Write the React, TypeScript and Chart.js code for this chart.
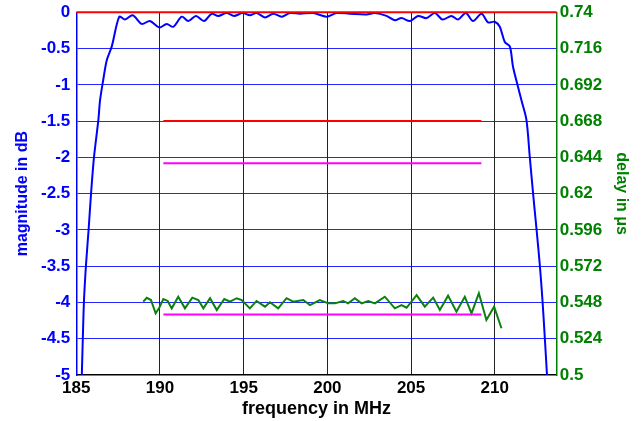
import React, { useEffect, useRef } from "react";
import { Chart, registerables } from "chart.js";

Chart.register(...registerables);

// ---- data ----
const magFreq = [
  185.33, 185.39, 185.46, 185.58, 185.74, 185.88, 186.06, 186.32, 186.42, 186.61, 186.82, 187.12, 187.57,
  187.91, 188.37, 188.91, 189.4, 189.96, 190.4, 190.79, 191.3, 191.69, 192.15, 192.63, 193.09, 193.48,
  193.98, 194.42, 194.94, 195.37, 195.77, 196.27, 196.76, 197.27, 197.76, 198.36, 199.15, 199.95, 200.55,
  201.34, 202.34, 202.84, 203.53, 204.03, 204.43, 204.93, 205.42, 205.92, 206.42, 206.88, 207.41, 207.81,
  208.27, 208.7, 209.21, 209.6, 210.0, 210.3, 210.6, 210.9, 211.09, 211.39, 211.59, 211.89, 212.09,
  212.29, 212.49, 212.69, 212.85, 212.99, 213.12,
];
const magDb = [
  -5.0, -4.49, -3.97, -3.48, -2.98, -2.5, -1.99, -1.48, -1.21, -0.93, -0.66, -0.47, -0.06,
  -0.1, -0.04, -0.16, -0.12, -0.21, -0.16, -0.2, -0.06, -0.12, -0.05, -0.12, -0.02, -0.05,
  -0.01, -0.05, -0.01, -0.04, -0.01, -0.07, -0.02, -0.06, -0.01, -0.02, -0.01, -0.06, -0.01,
  -0.02, -0.03, -0.01, -0.05, -0.11, -0.08, -0.12, -0.05, -0.08, -0.01, -0.1, -0.05, -0.1,
  -0.01, -0.12, -0.02, -0.14, -0.13, -0.2, -0.41, -0.47, -0.75, -1.03, -1.21, -1.48, -1.99,
  -2.5, -2.98, -3.48, -3.97, -4.49, -5.0,
];

const delayFreq = [
  189.0, 189.21, 189.46, 189.74, 189.94, 190.2, 190.46, 190.7, 191.09, 191.49, 191.93, 192.29, 192.59,
  192.99, 193.39, 193.84, 194.18, 194.58, 194.88, 195.37, 195.77, 196.27, 196.57, 197.06, 197.56, 197.96,
  198.56, 198.96, 199.55, 200.05, 200.45, 200.94, 201.24, 201.64, 202.04, 202.44, 202.84, 203.43, 204.03,
  204.43, 204.73, 205.33, 205.82, 206.32, 206.72, 207.21, 207.71, 208.21, 208.61, 209.05, 209.5, 209.96,
  210.4,
];
const delayUs = [
  0.5485, 0.5511, 0.5496, 0.5408, 0.5441, 0.5503, 0.549, 0.5441, 0.5518, 0.5441, 0.5512, 0.5496, 0.5441,
  0.5508, 0.543, 0.5503, 0.5485, 0.5508, 0.5496, 0.5441, 0.549, 0.5452, 0.5481, 0.5441, 0.5508, 0.5485,
  0.5496, 0.5463, 0.5496, 0.5474, 0.5474, 0.549, 0.5474, 0.5508, 0.5474, 0.549, 0.5474, 0.5518, 0.5441,
  0.5463, 0.5445, 0.5529, 0.5452, 0.5512, 0.543, 0.5525, 0.5419, 0.5518, 0.5408, 0.5541, 0.5364, 0.5452,
  0.5309,
];

const specFreq = [190.2, 209.2];
const refLineFreq = [185, 213.7];
const refLineDb = [0, 0];
const specMaxLossDb = [-1.5, -1.5];
const specRippleDb = [-2.08, -2.08];
const specDelayUs = [0.54, 0.54];

const xTicks = [185, 190, 195, 200, 205, 210];
const xTickLabels = ["185", "190", "195", "200", "205", "210"];
const yLeftTicks = [-5, -4.5, -4, -3.5, -3, -2.5, -2, -1.5, -1, -0.5, 0];
const yLeftLabels = ["-5", "-4.5", "-4", "-3.5", "-3", "-2.5", "-2", "-1.5", "-1", "-0.5", "0"];
const yRightTicks = [0.5, 0.524, 0.548, 0.572, 0.596, 0.62, 0.644, 0.668, 0.692, 0.716, 0.74];
const yRightLabels = ["0.5", "0.524", "0.548", "0.572", "0.596", "0.62", "0.644", "0.668", "0.692", "0.716", "0.74"];

const W = 643;
const H = 421;

function pts(xs: number[], ys: number[]) {
  return xs.map((x, i) => ({ x, y: ys[i] }));
}

export default function App() {
  const ref = useRef<HTMLCanvasElement | null>(null);

  useEffect(() => {
    document.body.style.margin = "0";
    const canvas = ref.current;
    if (!canvas) return;
    const font = (size: number) => ({ family: "'Liberation Sans', Arial, sans-serif", size, weight: "bold" as const });
    const blue = "#0000ff";
    const green = "#008000";

    const chart = new Chart(canvas, {
      type: "line",
      data: {
        datasets: [
          {
            data: pts(refLineFreq, refLineDb),
            borderColor: "#ff0000",
            borderWidth: 2,
            pointRadius: 0,
            clip: 4,
            yAxisID: "y",
          },
          {
            data: pts(specFreq, specMaxLossDb),
            borderColor: "#ff0000",
            borderWidth: 2,
            pointRadius: 0,
            yAxisID: "y",
          },
          {
            data: pts(specFreq, specRippleDb),
            borderColor: "#ff00ff",
            borderWidth: 2,
            pointRadius: 0,
            yAxisID: "y",
          },
          {
            data: pts(specFreq, specDelayUs),
            borderColor: "#ff00ff",
            borderWidth: 2,
            pointRadius: 0,
            yAxisID: "y1",
          },
          {
            data: pts(delayFreq, delayUs),
            borderColor: "#0c800c",
            borderWidth: 2,
            pointRadius: 0,
            tension: 0,
            yAxisID: "y1",
          },
          {
            data: pts(magFreq, magDb),
            borderColor: blue,
            borderWidth: 2,
            pointRadius: 0,
            tension: 0.3,
            yAxisID: "y",
          },
        ],
      },
      options: {
        responsive: false,
        animation: false,
        devicePixelRatio: 1,
        layout: { padding: { top: 12.3, left: 0, right: 0, bottom: 0 } },
        plugins: { legend: { display: false }, tooltip: { enabled: false } },
        scales: {
          x: {
            type: "linear",
            min: 185,
            max: 213.7,
            afterBuildTicks: (s: any) => {
              s.ticks = xTicks.map((v) => ({ value: v }));
            },
            afterFit: (s: any) => {
              s.height = 46;
              s.paddingLeft = 0;
              s.paddingRight = 0;
            },
            ticks: {
              color: "#000",
              font: font(17),
              padding: 3,
              maxRotation: 0,
              autoSkip: false,
              callback: (v: any) => {
                const i = xTicks.indexOf(Number(v));
                return i >= 0 ? xTickLabels[i] : "";
              },
            },
            grid: {
              color: (c: any) => (c.tick && c.tick.value === 185 ? "rgba(0,0,0,0)" : "#222"),
              lineWidth: 1,
              drawTicks: false,
            },
            border: { color: "#000", width: 1.5 },
            title: {
              display: true,
              text: "frequency in MHz",
              color: "#000",
              font: font(18),
              padding: { top: 0, bottom: 1 },
            },
          },
          y: {
            type: "linear",
            position: "left",
            min: -5,
            max: 0,
            afterBuildTicks: (s: any) => {
              s.ticks = yLeftTicks.map((v) => ({ value: v }));
            },
            afterFit: (s: any) => {
              s.width = 76.3;
              s.paddingTop = 0;
              s.paddingBottom = 0;
            },
            ticks: {
              color: blue,
              font: font(17),
              padding: 6,
              autoSkip: false,
              callback: (v: any) => {
                const i = yLeftTicks.indexOf(Number(v));
                return i >= 0 ? yLeftLabels[i] : "";
              },
            },
            grid: {
              color: (c: any) =>
                c.tick && (c.tick.value === -5 || c.tick.value === 0) ? "rgba(0,0,0,0)" : "rgba(0,0,255,0.85)",
              lineWidth: 1,
              drawTicks: false,
            },
            border: { color: blue, width: 1.5 },
            title: {
              display: true,
              text: "magnitude in dB",
              color: blue,
              font: font(16),
              padding: { top: 13, bottom: 0 },
            },
          },
          y1: {
            type: "linear",
            position: "right",
            min: 0.5,
            max: 0.74,
            afterBuildTicks: (s: any) => {
              s.ticks = yRightTicks.map((v) => ({ value: v }));
            },
            afterFit: (s: any) => {
              s.width = 86.3;
              s.paddingTop = 0;
              s.paddingBottom = 0;
            },
            ticks: {
              color: green,
              font: font(17),
              padding: 3,
              autoSkip: false,
              callback: (v: any) => {
                const i = yRightTicks.findIndex((t) => Math.abs(t - Number(v)) < 1e-9);
                return i >= 0 ? yRightLabels[i] : "";
              },
            },
            grid: { drawOnChartArea: false, drawTicks: false },
            border: { color: green, width: 1.5 },
            title: {
              display: true,
              text: "delay in μs",
              color: green,
              font: font(16),
              padding: { top: 12, bottom: 0 },
            },
          },
        },
      },
    });
    return () => chart.destroy();
  }, []);

  return (
    <div style={{ width: W, height: H, position: "relative", background: "#fff" }}>
      <canvas ref={ref} width={W} height={H} style={{ width: W, height: H, display: "block" }} />
    </div>
  );
}
